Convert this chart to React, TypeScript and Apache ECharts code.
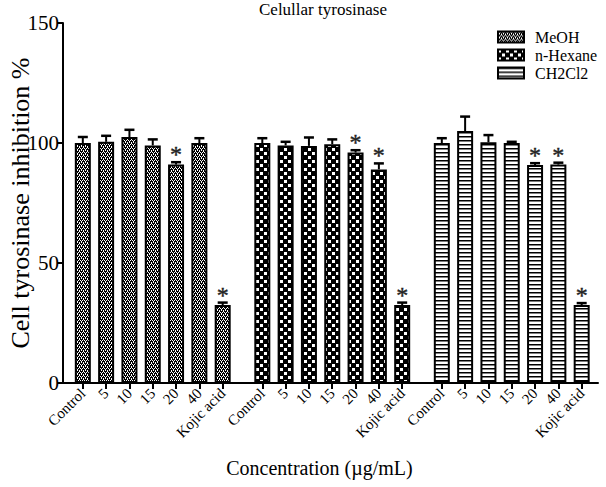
import React, { useEffect, useRef } from "react";
import * as echarts from "echarts";

const categories = ["Control", "5", "10", "15", "20", "40", "Kojic acid"];
const seriesNames = ["MeOH", "n-Hexane", "CH2Cl2"];

const meohValues = [100, 100.5, 102.5, 99, 91, 100, 32.5];
const meohErrors = [2.5, 2.5, 3, 2.5, 1, 2, 1];
const meohSig = [0, 0, 0, 0, 1, 0, 1];

const hexaneValues = [100, 99, 98.8, 99.5, 96, 89, 32.5];
const hexaneErrors = [2, 1.5, 3.5, 2, 1, 2.5, 1];
const hexaneSig = [0, 0, 0, 0, 1, 1, 1];

const ch2cl2Values = [100, 105, 100.3, 100, 90.8, 91, 32.5];
const ch2cl2Errors = [2, 6, 3, 0.5, 0.8, 0.8, 0.8];
const ch2cl2Sig = [0, 0, 0, 0, 1, 1, 1];

const yTickInterval = 50;
const yMax = 150;

const FONT = "Liberation Serif";
const GROUP_GAP = 0.7;

function pos(g: number, i: number) {
  return 1 + i + g * (categories.length + GROUP_GAP);
}

function makePattern(kind: number): HTMLCanvasElement {
  const c = document.createElement("canvas");
  const ctx = c.getContext("2d")!;
  if (kind === 0) {
    c.width = 4;
    c.height = 4;
    ctx.fillStyle = "#000";
    ctx.fillRect(0, 0, 4, 4);
    ctx.fillStyle = "#fff";
    ctx.fillRect(0, 0, 1, 1);
    ctx.fillRect(2, 0, 1, 1);
    ctx.fillRect(1, 2, 1, 1);
    ctx.fillRect(3, 2, 1, 1);
    ctx.fillRect(1, 1, 1, 1);
    ctx.fillRect(3, 3, 1, 1);
  } else if (kind === 1) {
    c.width = 8;
    c.height = 8;
    ctx.fillStyle = "#000";
    ctx.fillRect(0, 0, 8, 8);
    ctx.fillStyle = "#fff";
    ctx.fillRect(0, 0, 3, 3);
    ctx.fillRect(4, 4, 3, 3);
  } else {
    c.width = 4;
    c.height = 4;
    ctx.fillStyle = "#fff";
    ctx.fillRect(0, 0, 4, 4);
    ctx.fillStyle = "#000";
    ctx.fillRect(0, 0, 4, 1.5);
  }
  return c;
}

export default function App() {
  const ref = useRef<HTMLDivElement>(null);

  useEffect(() => {
    if (!ref.current) return;
    const chart = echarts.init(ref.current, undefined, { renderer: "svg" });

    const groups = [
      { v: meohValues, e: meohErrors, s: meohSig },
      { v: hexaneValues, e: hexaneErrors, s: hexaneSig },
      { v: ch2cl2Values, e: ch2cl2Errors, s: ch2cl2Sig },
    ];

    const positions: number[] = [];
    const labelFor: { p: number; name: string }[] = [];
    groups.forEach((_, g) =>
      categories.forEach((name, i) => {
        positions.push(pos(g, i));
        labelFor.push({ p: pos(g, i), name });
      })
    );

    const barSeries: any[] = groups.map((grp, g) => ({
      name: seriesNames[g],
      type: "bar",
      barWidth: 16,
      barGap: "-100%",
      data: grp.v.map((v, i) => [pos(g, i), v]),
      itemStyle: {
        color: { image: makePattern(g), repeat: "repeat" },
        borderColor: "#000",
        borderWidth: 2,
      },
      z: 2,
    }));

    const errData: any[] = [];
    groups.forEach((grp, g) =>
      grp.v.forEach((v, i) => errData.push([pos(g, i), v, grp.e[i], grp.s[i]]))
    );

    const errSeries = {
      name: "err",
      type: "custom",
      z: 5,
      color: "#000",
      itemStyle: { color: "#000" },
      data: errData,
      encode: { x: 0, y: 1 },
      renderItem: (params: any, api: any) => {
        const x = api.value(0);
        const v = api.value(1);
        const e = api.value(2);
        const s = api.value(3);
        const top = api.coord([x, v]);
        const up = api.coord([x, v + e]);
        const children: any[] = [
          {
            type: "line",
            shape: { x1: top[0], y1: top[1], x2: up[0], y2: up[1] },
            style: { stroke: "#000", lineWidth: 2 },
          },
          {
            type: "line",
            shape: { x1: up[0] - 5, y1: up[1], x2: up[0] + 5, y2: up[1] },
            style: { stroke: "#000", lineWidth: 2.5 },
          },
        ];
        if (s) {
          children.push({
            type: "text",
            x: up[0],
            y: up[1] - 8,
            style: {
              text: "*",
              fill: "#222",
              stroke: "#222",
              lineWidth: 0.4,
              fontFamily: FONT,
              fontSize: 24,
              align: "center",
              verticalAlign: "middle",
            },
          });
        }
        return { type: "group", children };
      },
    };

    chart.setOption({
      animation: false,
      backgroundColor: "#fff",
      title: {
        text: "Celullar tyrosinase",
        left: 254,
        top: -4,
        textStyle: { fontFamily: FONT, fontSize: 17, fontWeight: "normal", color: "#000" },
      },
      legend: {
        data: seriesNames,
        orient: "vertical",
        left: 492,
        top: 24,
        icon: "rect",
        itemWidth: 26,
        itemHeight: 11,
        itemGap: 2,
        textStyle: { fontFamily: FONT, fontSize: 16, color: "#000", padding: [0, 0, 0, 6] },
      },
      grid: {
        left: 63,
        right: 8,
        top: 23,
        bottom: 104,
        containLabel: false,
        outerBoundsMode: "none",
      },
      xAxis: {
        type: "value",
        min: 0.15,
        max: 23.1,
        splitLine: { show: false },
        axisLine: { show: true, lineStyle: { color: "#000", width: 2 } },
        axisTick: { show: true, length: 6, lineStyle: { color: "#000", width: 2 }, customValues: positions },
        axisLabel: {
          customValues: positions,
          rotate: 45,
          margin: 8,
          fontFamily: FONT,
          fontSize: 15,
          color: "#000",
          formatter: (val: number) => {
            const f = labelFor.find((l) => Math.abs(l.p - val) < 1e-6);
            return f ? f.name : "";
          },
        },
        name: "Concentration (µg/mL)",
        nameLocation: "middle",
        nameGap: 75,
        nameMoveOverlap: false,
        nameTextStyle: { fontFamily: FONT, fontSize: 20, color: "#000", padding: [0, 22, 0, 0] },
      },
      yAxis: {
        type: "value",
        min: 0,
        max: yMax,
        interval: yTickInterval,
        splitLine: { show: false },
        axisLine: { show: true, lineStyle: { color: "#000", width: 2 } },
        axisTick: { show: true, length: 6, lineStyle: { color: "#000", width: 2 } },
        axisLabel: { fontFamily: FONT, fontSize: 21, color: "#000", margin: 4 },
        name: "Cell tyrosinase inhibition %",
        nameLocation: "middle",
        nameGap: 30,
        nameMoveOverlap: false,
        nameTextStyle: { fontFamily: FONT, fontSize: 26, color: "#000" },
      },
      series: [...barSeries, errSeries],
    });

    return () => chart.dispose();
  }, []);

  return <div ref={ref} style={{ width: 606, height: 487, position: "absolute", left: 0, top: 0 }} />;
}
